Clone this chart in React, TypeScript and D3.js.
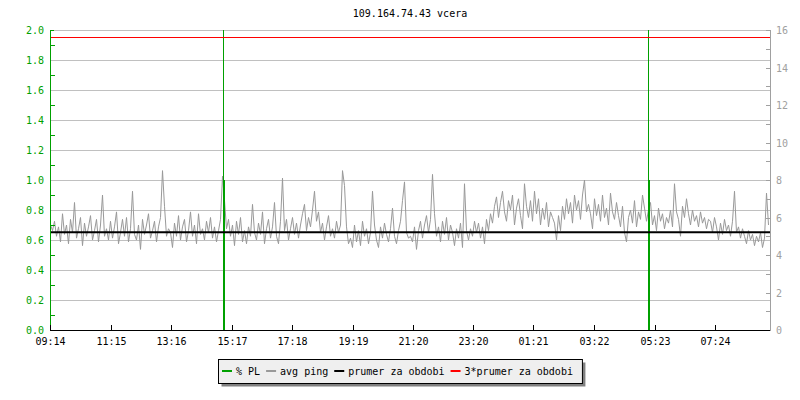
import React from "react";
import * as d3 from "d3";

const title = "109.164.74.43 vcera";
const startTime = "09:14";
const pingStepMinutes = 4;

// avg ping (ms, right axis), one sample every 4 minutes from 09:14
const pingValues: number[] = [
  5.6, 5.3, 5.8, 5.0, 5.5, 4.7, 6.2, 5.1, 5.6, 4.6, 5.9, 5.2, 6.8, 4.9, 5.4, 6.0, 4.5, 5.7, 5.0, 5.5, 6.1, 4.8, 5.3, 5.9, 4.7, 5.6, 7.2, 5.0, 5.4, 4.8,
  5.8, 4.9, 5.5, 6.3, 4.6, 5.2, 5.9, 5.0, 6.0, 4.7, 5.4, 7.4, 5.1, 4.8, 5.6, 4.3, 5.9, 5.1, 5.6, 6.2, 4.9, 5.3, 5.8, 4.7, 5.5, 6.0, 8.5, 6.6, 5.0, 5.4,
  5.2, 4.4, 5.7, 5.0, 6.1, 4.8, 5.5, 5.9, 4.7, 5.3, 6.3, 5.0, 5.6, 4.6, 6.2, 5.1, 5.4, 4.8, 5.8, 5.2, 6.0, 4.9, 5.5, 4.7, 5.3, 5.9, 8.2, 6.9, 5.4, 5.9,
  5.0, 5.6, 4.5, 5.8, 5.1, 6.0, 4.7, 5.3, 4.6, 5.5, 5.0, 6.7, 5.2, 4.8, 5.7, 5.1, 6.3, 4.6, 5.4, 5.9, 4.9, 5.5, 6.8, 5.0, 4.6, 5.8, 8.1, 5.3, 5.9, 4.8,
  5.4, 6.0, 5.1, 5.7, 4.9, 5.6, 6.2, 6.7, 5.3, 6.0, 5.5, 6.4, 7.4, 5.8, 6.3, 5.2, 5.7, 4.8, 5.5, 6.1, 5.0, 5.4, 4.9, 5.8, 5.2, 5.6, 8.5, 7.7, 5.5, 4.6,
  4.9, 4.4, 5.6, 4.7, 5.3, 4.5, 5.8, 5.0, 5.4, 4.6, 5.2, 7.4, 5.6, 4.8, 4.4, 5.5, 4.9, 5.7, 5.1, 4.7, 5.4, 6.5, 5.0, 4.6, 5.3, 5.8, 6.9, 7.9, 5.2, 4.9,
  5.0, 4.7, 5.5, 4.3, 5.3, 5.8, 4.9, 5.6, 6.1, 5.2, 5.9, 8.3, 6.2, 5.0, 5.5, 4.7, 5.8, 5.1, 6.0, 4.8, 5.6, 5.2, 4.5, 5.4, 4.9, 5.7, 4.4, 7.8, 5.3, 4.8,
  5.4, 5.0, 5.8, 5.2, 5.7, 4.9, 5.5, 4.6, 5.9, 5.3, 6.2, 5.7, 6.6, 7.1, 6.0, 6.8, 7.4, 6.3, 5.8, 6.9, 6.4, 7.2, 5.6, 6.5, 7.0, 6.1, 5.4, 7.8, 6.6, 6.0,
  6.9, 5.8, 7.4, 6.2, 7.0, 5.6, 6.5, 5.9, 6.8, 5.5, 6.3, 6.0, 5.7, 4.8, 6.1, 5.3, 6.6, 5.9, 7.0, 6.2, 6.8, 5.7, 7.2, 6.4, 6.9, 5.9, 7.2, 8.0, 6.3, 6.7,
  6.2, 5.4, 7.0, 6.1, 6.7, 5.8, 7.2, 6.0, 6.5, 5.6, 7.3, 6.3, 5.9, 6.8, 6.1, 5.5, 6.6, 5.2, 4.7, 6.0, 6.4, 5.7, 6.9, 5.5, 6.3, 5.9, 7.2, 6.5, 5.8, 6.4,
  6.8, 5.6, 6.1, 5.3, 6.5, 5.8, 6.2, 5.4, 6.0, 5.7, 6.4, 5.5, 7.8, 6.3, 5.9, 5.0, 6.6, 6.0, 7.0, 6.2, 5.6, 6.4, 5.8, 6.1, 5.5, 6.3, 5.7, 6.0, 5.4, 5.9,
  5.8, 5.2, 6.0, 5.5, 4.8, 5.7, 5.1, 5.9, 5.3, 5.6, 5.0, 5.8, 7.4, 5.2, 5.5, 4.9, 5.4, 5.0, 4.6, 5.3, 4.8, 5.1, 4.5, 5.0, 4.7, 5.2, 4.4, 4.9, 7.3, 5.6,
];

// packet loss (% PL, left axis)
const plTimes = ["15:00", "15:02", "05:10", "05:12"];
const plValues = [2.4, 1.0, 2.4, 1.0];

const avgPing = 5.21; // prumer za obdobi (ms)

const timeTickLabels = ["09:14", "11:15", "13:16", "15:17", "17:18", "19:19", "21:20", "23:20", "01:21", "03:22", "05:23", "07:24"];
const leftTickLabels = ["0.0", "0.2", "0.4", "0.6", "0.8", "1.0", "1.2", "1.4", "1.6", "1.8", "2.0"];
const rightTickLabels = ["0", "2", "4", "6", "8", "10", "12", "14", "16"];

const legendLabels = ["% PL", "avg ping", "prumer za obdobi", "3*prumer za obdobi"];
const legendColors = ["#00a000", "#999999", "#000000", "#ff0000"];

const FONT = "'DejaVu Sans Mono', monospace";

function toMinRaw(t: string): number {
  const [h, m] = t.split(":").map(Number);
  return h * 60 + m;
}
function toMin(t: string): number {
  return (toMinRaw(t) - toMinRaw(startTime) + 1440) % 1440;
}

export default function App() {
  const W = 800, H = 400;
  const left = 50, right = 770, top = 30, bottom = 330;

  const x = d3.scaleLinear().domain([0, 1440]).range([left, right]);
  const yL = d3.scaleLinear().domain([0, 2]).range([bottom, top]).clamp(true);
  const yR = d3.scaleLinear().domain([0, 16]).range([bottom, top]).clamp(true);

  const pingLine = d3
    .line<number>()
    .x((_, i) => x(i * pingStepMinutes) + 0.5)
    .y((d) => yR(d));

  const leftMinor = d3.range(1, 20, 2).map((k) => k / 10);
  const rightMinor = d3.range(0, 17);

  const charW = 6.02;
  const legendY = 371;
  let cx = 222;
  const legendItems = legendLabels.map((lab, i) => {
    const sx = cx;
    const tx = cx + 14;
    cx = tx + lab.length * charW + 6;
    return { lab, color: legendColors[i], sx, tx };
  });
  const boxX = 218.5, boxY = 359.5, boxW = cx - 218 + 3, boxH = 24;

  return (
    <svg
      width={W}
      height={H}
      style={{ position: "absolute", left: 0, top: 0, background: "#fff" }}
      fontFamily={FONT}
      fontSize={10}
    >
      <rect x={0} y={0} width={W} height={H} fill="#fff" />
      <text x={(left + right) / 2} y={17} textAnchor="middle" fill="#000">
        {title}
      </text>

      {/* gridlines */}
      {leftTickLabels.map((l) => (
        <line
          key={"g" + l}
          x1={left}
          x2={right}
          y1={Math.round(yL(+l)) + 0.5}
          y2={Math.round(yL(+l)) + 0.5}
          stroke="#c0c0c0"
          strokeWidth={1}
        />
      ))}

      {/* ping */}
      <path d={pingLine(pingValues) || ""} fill="none" stroke="#999999" strokeWidth={1} />

      {/* packet loss */}
      {plTimes.map((t, i) => {
        const px = Math.round(x(toMin(t)));
        const py = yL(plValues[i]);
        return <rect key={"pl" + i} x={px} y={py} width={1} height={bottom - py + 1} fill="#00a000" />;
      })}

      {/* average & 3*average */}
      <line x1={left} x2={right} y1={yR(avgPing)} y2={yR(avgPing)} stroke="#000" strokeWidth={2} />
      <line
        x1={left}
        x2={right}
        y1={Math.round(yR(avgPing * 3)) + 0.5}
        y2={Math.round(yR(avgPing * 3)) + 0.5}
        stroke="#ff0000"
        strokeWidth={1}
      />

      {/* left axis */}
      <line x1={left + 0.5} x2={left + 0.5} y1={top} y2={bottom + 1} stroke="#00a000" />
      {leftMinor.map((v) => (
        <line
          key={"lm" + v}
          x1={left}
          x2={left + 5}
          y1={Math.round(yL(v)) + 0.5}
          y2={Math.round(yL(v)) + 0.5}
          stroke="#00a000"
        />
      ))}
      <line x1={left} x2={left + 4} y1={top + 0.5} y2={top + 0.5} stroke="#00a000" />
      {leftTickLabels.map((l) => (
        <text key={"ll" + l} x={44} y={yL(+l) + 4} textAnchor="end" fill="#00a000">
          {l}
        </text>
      ))}

      {/* right axis */}
      <line x1={right + 0.5} x2={right + 0.5} y1={top} y2={bottom + 1} stroke="#a0a0a0" />
      {rightMinor.map((v) => (
        <line
          key={"rm" + v}
          x1={right - 4}
          x2={right + 1}
          y1={Math.round(yR(v)) + 0.5}
          y2={Math.round(yR(v)) + 0.5}
          stroke="#a0a0a0"
        />
      ))}
      {rightTickLabels.map((l) => (
        <text key={"rl" + l} x={776} y={yR(+l) + 4} textAnchor="start" fill="#a0a0a0">
          {l}
        </text>
      ))}

      {/* bottom axis */}
      <line x1={left} x2={right} y1={bottom + 0.5} y2={bottom + 0.5} stroke="#000" />
      {timeTickLabels.map((t) => {
        const tx = Math.round(x(toMin(t))) + 0.5;
        return (
          <g key={"t" + t}>
            <line x1={tx} x2={tx} y1={bottom - 5} y2={bottom} stroke="#000" />
            <text x={tx} y={345} textAnchor="middle" fill="#000">
              {t}
            </text>
          </g>
        );
      })}

      {/* legend */}
      <rect x={boxX + 3} y={boxY + 3} width={boxW} height={boxH} fill="#808080" />
      <rect x={boxX} y={boxY} width={boxW} height={boxH} fill="#efefef" stroke="#000" strokeWidth={1} />
      {legendItems.map((it) => (
        <g key={it.lab}>
          <line x1={it.sx} x2={it.sx + 10} y1={legendY} y2={legendY} stroke={it.color} strokeWidth={2} />
          <text x={it.tx} y={legendY + 4} fill="#000">
            {it.lab}
          </text>
        </g>
      ))}
    </svg>
  );
}
